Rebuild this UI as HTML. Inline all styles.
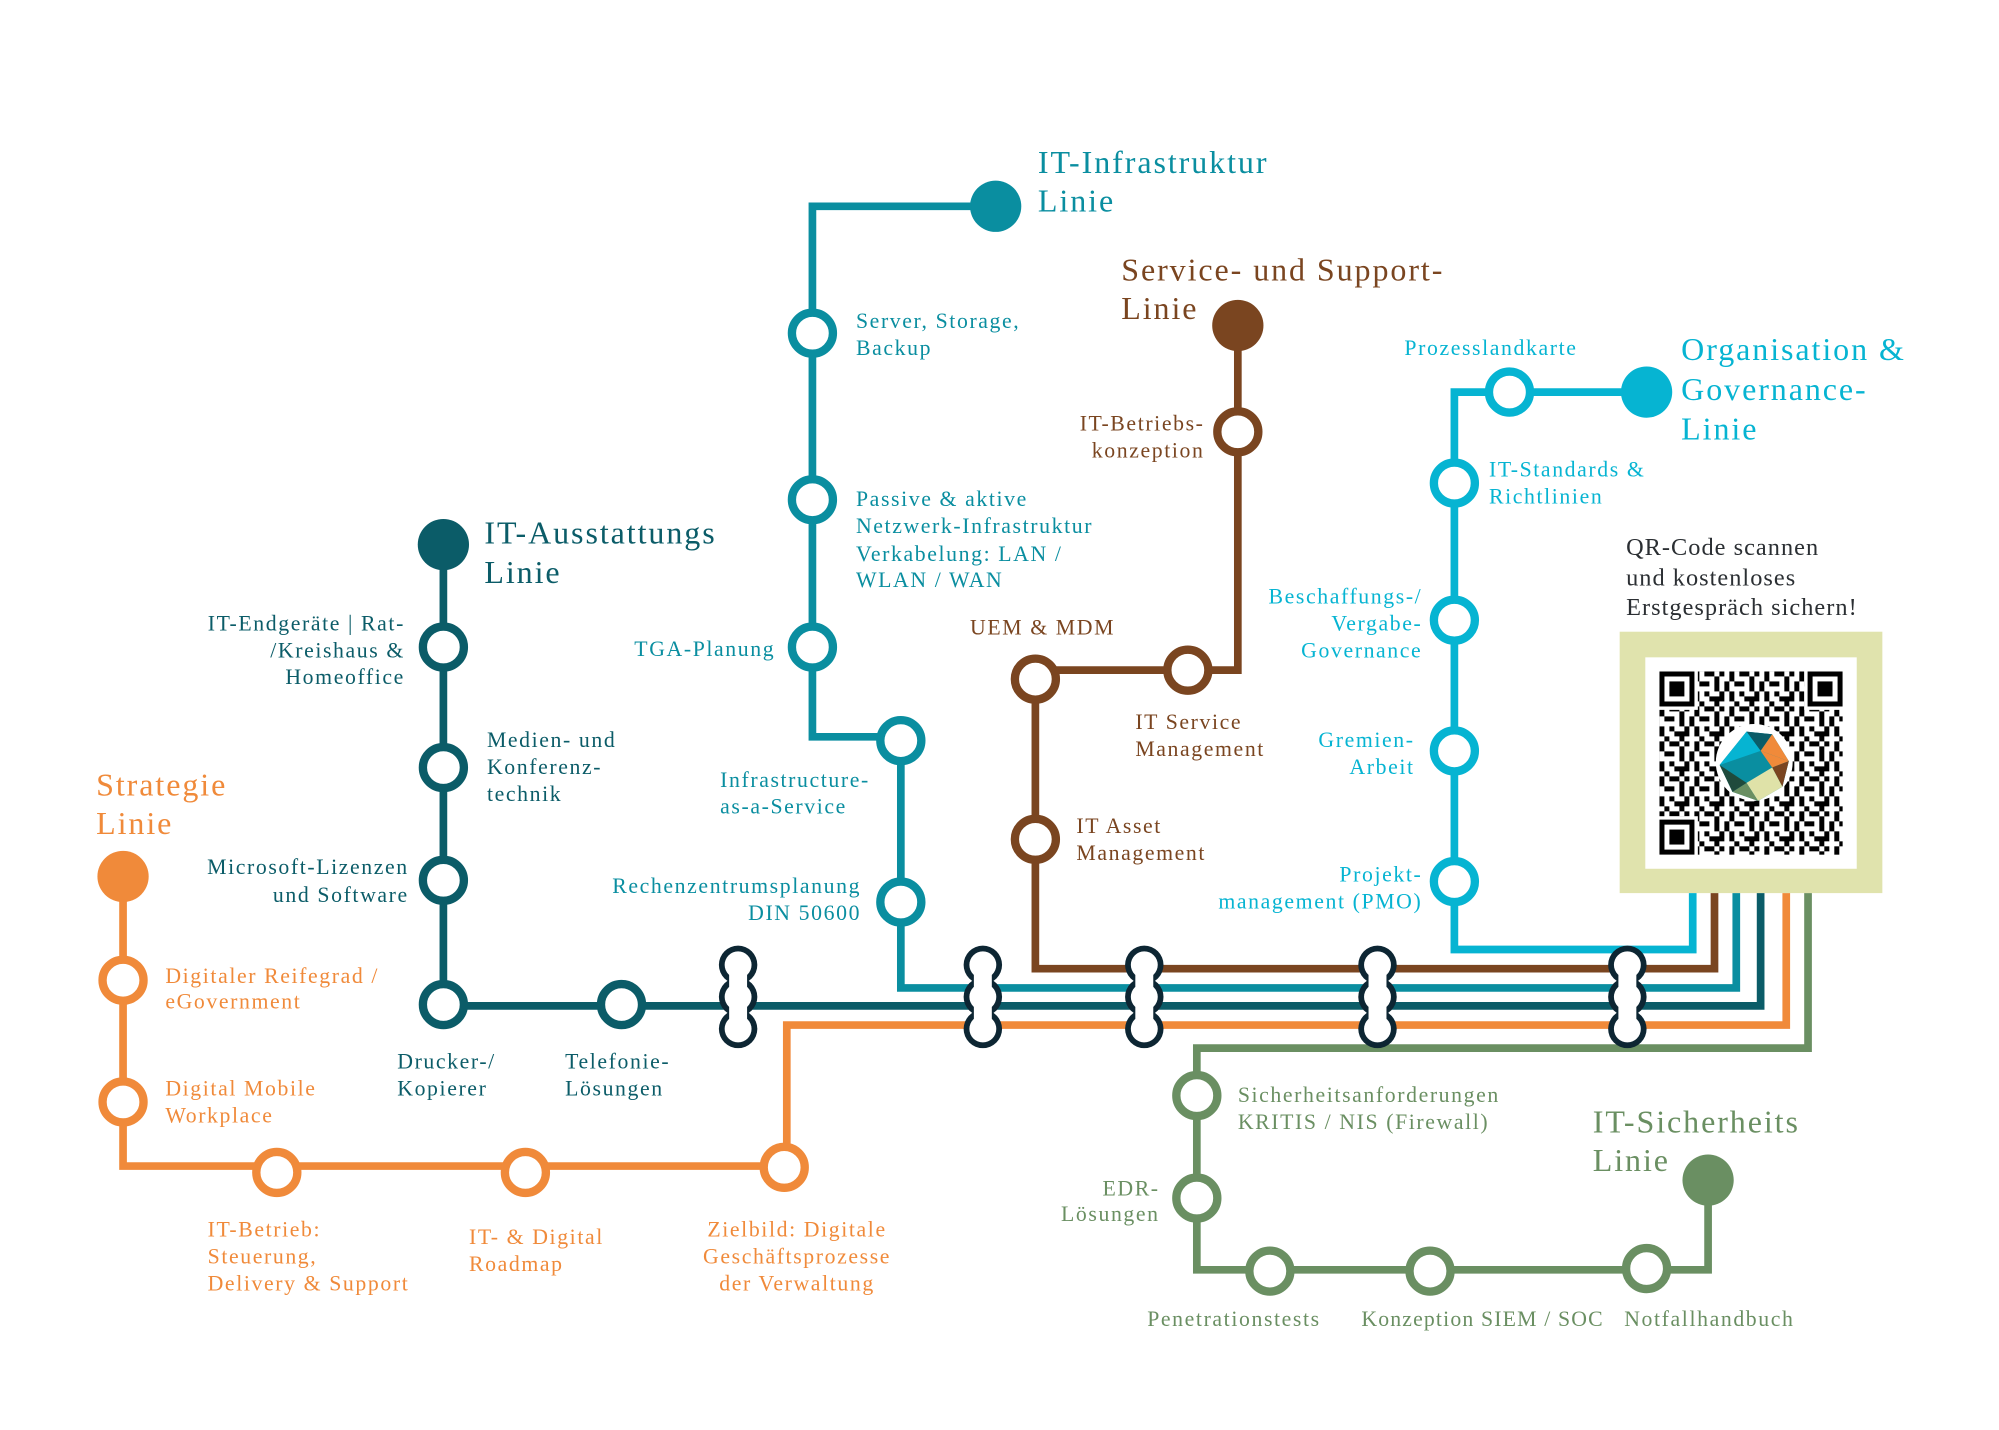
<!DOCTYPE html>
<html><head><meta charset="utf-8"><style>
html,body{margin:0;padding:0;background:#fff;}
svg{display:block;}
text{font-family:"Liberation Serif","DejaVu Serif",serif;font-size:17px;letter-spacing:1.25px;}
.t{font-size:25px;letter-spacing:1.5px;}
</style></head><body>
<svg width="1999" height="1430" viewBox="0 0 1560 1116" xmlns="http://www.w3.org/2000/svg">
<defs>
<pattern id="qr" x="1295" y="524" width="27.3" height="27.3" patternUnits="userSpaceOnUse">
<rect x="0" y="0" width="3.9" height="7.8" fill="#000"/><rect x="7.8" y="0" width="7.8" height="3.9" fill="#000"/><rect x="19.5" y="0" width="3.9" height="3.9" fill="#000"/>
<rect x="3.9" y="7.8" width="7.8" height="3.9" fill="#000"/><rect x="15.6" y="3.9" width="3.9" height="11.7" fill="#000"/><rect x="23.4" y="7.8" width="3.9" height="7.8" fill="#000"/>
<rect x="0" y="15.6" width="3.9" height="7.8" fill="#000"/><rect x="7.8" y="15.6" width="3.9" height="3.9" fill="#000"/><rect x="11.7" y="19.5" width="11.7" height="3.9" fill="#000"/>
<rect x="3.9" y="23.4" width="3.9" height="3.9" fill="#000"/><rect x="19.5" y="15.6" width="3.9" height="3.9" fill="#000"/><rect x="15.6" y="23.4" width="3.9" height="3.9" fill="#000"/>
</pattern>
<g id="pill">
<circle cx="0" cy="-25" r="15" fill="#0d2633"/><circle cx="0" cy="0" r="15" fill="#0d2633"/><circle cx="0" cy="25" r="15" fill="#0d2633"/>
<circle cx="0" cy="-25" r="10.5" fill="#fff"/><circle cx="0" cy="0" r="10.5" fill="#fff"/><circle cx="0" cy="25" r="10.5" fill="#fff"/>
<rect x="-7" y="-25" width="14" height="50" fill="#fff"/>
</g>
</defs>

<rect x="1264" y="493" width="205" height="204" fill="#e0e3ad"/>
<rect x="1284" y="513" width="165" height="165" fill="#fff"/>
<rect x="1295" y="524" width="143" height="143" fill="url(#qr)"/>
<g fill="#fff"><rect x="1293" y="522" width="32" height="32"/><rect x="1408" y="522" width="32" height="32"/><rect x="1293" y="637" width="32" height="32"/></g>
<g fill="none" stroke="#000" stroke-width="3.9">
<rect x="1297" y="526" width="23.4" height="23.4"/><rect x="1412.6" y="526" width="23.4" height="23.4"/><rect x="1297" y="641.6" width="23.4" height="23.4"/></g>
<g fill="#000"><rect x="1302.8" y="531.8" width="11.7" height="11.7"/><rect x="1418.4" y="531.8" width="11.7" height="11.7"/><rect x="1302.8" y="647.4" width="11.7" height="11.7"/></g>
<circle cx="1369" cy="595" r="30" fill="#fff"/>
<g transform="translate(1369,596)">
<polygon points="-6,-25 14,-23 27,-2 22,18 3,29 -17,22 -27,1" fill="#0a8ea0"/>
<polygon points="-6,-25 14,-23 5,-10" fill="#0b5c68"/>
<polygon points="-6,-25 5,-10 -27,1" fill="#06b4d2"/>
<polygon points="14,-23 27,-2 5,-10 " fill="#f08a3a"/>
<polygon points="5,-10 27,-2 14,3" fill="#f08a3a"/>
<polygon points="27,-2 22,18 14,3" fill="#7a4520"/>
<polygon points="14,3 22,18 3,29 -6,15" fill="#dfe2a8"/>
<polygon points="-6,15 3,29 -17,22" fill="#6a8f62"/>
<polygon points="-27,1 -6,15 -17,22" fill="#1f4a3c"/>
</g>

<g fill="none" stroke-width="6" stroke-linejoin="miter">
<polyline stroke="#0a8ea0" points="777,161 634,161 634,575 703,575 703,771 1355,771 1355,697"/>
<polyline stroke="#7a4520" points="966,254 966,523 808,523 808,756 1338,756 1338,697"/>
<polyline stroke="#06b4d2" points="1285,306 1135,306 1135,741 1321,741 1321,697"/>
<polyline stroke="#0b5c68" points="346,425 346,785 1374,785 1374,697"/>
<polyline stroke="#f08a3a" points="96,684 96,910 614,910 614,800 1394,800 1394,697"/>
<polyline stroke="#6a8f62" points="1333,921 1333,991 934,991 934,818 1411,818 1411,697"/>
</g>

<use href="#pill" x="576" y="778"/>
<use href="#pill" x="767" y="778"/>
<use href="#pill" x="893" y="778"/>
<use href="#pill" x="1075" y="778"/>
<use href="#pill" x="1270" y="778"/>

<circle cx="777" cy="161" r="20" fill="#0a8ea0"/>
<circle cx="966" cy="254" r="20" fill="#7a4520"/>
<circle cx="1285" cy="306" r="20" fill="#06b4d2"/>
<circle cx="346" cy="425" r="20" fill="#0b5c68"/>
<circle cx="96" cy="684" r="20" fill="#f08a3a"/>
<circle cx="1333" cy="921" r="20" fill="#6a8f62"/>

<g fill="#fff" stroke-width="6.5">
<g stroke="#0a8ea0"><circle cx="634" cy="260" r="16"/><circle cx="634" cy="390" r="16"/><circle cx="634" cy="505" r="16"/><circle cx="703" cy="578" r="16"/><circle cx="703" cy="704" r="16"/></g>
<g stroke="#7a4520"><circle cx="966" cy="337" r="16"/><circle cx="927" cy="523" r="16"/><circle cx="808" cy="530" r="16"/><circle cx="808" cy="655" r="16"/></g>
<g stroke="#06b4d2"><circle cx="1178" cy="306" r="16"/><circle cx="1135" cy="377" r="16"/><circle cx="1135" cy="484" r="16"/><circle cx="1135" cy="586" r="16"/><circle cx="1135" cy="688" r="16"/></g>
<g stroke="#0b5c68"><circle cx="346" cy="505" r="16"/><circle cx="346" cy="599" r="16"/><circle cx="346" cy="687" r="16"/><circle cx="346" cy="784" r="16"/><circle cx="485" cy="784" r="16"/></g>
<g stroke="#f08a3a"><circle cx="96" cy="765" r="16"/><circle cx="96" cy="860" r="16"/><circle cx="216" cy="915" r="16"/><circle cx="410" cy="915" r="16"/><circle cx="612" cy="911" r="16"/></g>
<g stroke="#6a8f62"><circle cx="934" cy="855" r="16"/><circle cx="934" cy="935" r="16"/><circle cx="991" cy="992" r="16"/><circle cx="1116" cy="992" r="16"/><circle cx="1285" cy="990" r="16"/></g>
</g>

<g>
<text class="t" x="810" y="135" fill="#0a8ea0">IT-Infrastruktur</text><text class="t" x="810" y="165" fill="#0a8ea0">Linie</text>
<text class="t" x="875" y="219" fill="#7a4520">Service- und Support-</text><text class="t" x="875" y="249" fill="#7a4520">Linie</text>
<text class="t" x="1312" y="281" fill="#06b4d2">Organisation &amp;</text><text class="t" x="1312" y="312" fill="#06b4d2">Governance-</text><text class="t" x="1312" y="343" fill="#06b4d2">Linie</text>
<text class="t" x="378" y="424" fill="#0b5c68">IT-Ausstattungs</text><text class="t" x="378" y="455" fill="#0b5c68">Linie</text>
<text class="t" x="75" y="621" fill="#f08a3a">Strategie</text><text class="t" x="75" y="651" fill="#f08a3a">Linie</text>
<text class="t" x="1243" y="884" fill="#6a8f62">IT-Sicherheits</text><text class="t" x="1243" y="914" fill="#6a8f62">Linie</text>
</g>

<g fill="#0a8ea0">
<text x="668" y="256">Server, Storage,</text><text x="668" y="277">Backup</text>
<text x="668" y="395">Passive &amp; aktive</text><text x="668" y="416">Netzwerk-Infrastruktur</text><text x="668" y="438">Verkabelung: LAN /</text><text x="668" y="458">WLAN / WAN</text>
<text x="605" y="512" text-anchor="end">TGA-Planung</text>
<text x="562" y="614">Infrastructure-</text><text x="562" y="635">as-a-Service</text>
<text x="672" y="697" text-anchor="end">Rechenzentrumsplanung</text><text x="672" y="718" text-anchor="end">DIN 50600</text>
</g>
<g fill="#7a4520">
<text x="940" y="336" text-anchor="end">IT-Betriebs-</text><text x="940" y="357" text-anchor="end">konzeption</text>
<text x="757" y="495">UEM &amp; MDM</text>
<text x="886" y="569">IT Service</text><text x="886" y="590">Management</text>
<text x="840" y="650">IT Asset</text><text x="840" y="671">Management</text>
</g>
<g fill="#06b4d2">
<text x="1096" y="277">Prozesslandkarte</text>
<text x="1162" y="372">IT-Standards &amp;</text><text x="1162" y="393">Richtlinien</text>
<text x="1110" y="471" text-anchor="end">Beschaffungs-/</text><text x="1110" y="492" text-anchor="end">Vergabe-</text><text x="1110" y="513" text-anchor="end">Governance</text>
<text x="1104" y="583" text-anchor="end">Gremien-</text><text x="1104" y="604" text-anchor="end">Arbeit</text>
<text x="1110" y="688" text-anchor="end">Projekt-</text><text x="1110" y="709" text-anchor="end">management (PMO)</text>
</g>
<g fill="#2b2f33">
<text x="1269" y="433" style="font-size:19px;letter-spacing:0.8px">QR-Code scannen</text>
<text x="1269" y="457" style="font-size:19px;letter-spacing:0.8px">und kostenloses</text>
<text x="1269" y="480" style="font-size:19px;letter-spacing:0.8px">Erstgespräch sichern!</text>
</g>
<g fill="#0b5c68">
<text x="316" y="492" text-anchor="end">IT-Endgeräte | Rat-</text><text x="316" y="513" text-anchor="end">/Kreishaus &amp;</text><text x="316" y="534" text-anchor="end">Homeoffice</text>
<text x="380" y="583">Medien- und</text><text x="380" y="604">Konferenz-</text><text x="380" y="625">technik</text>
<text x="319" y="682" text-anchor="end">Microsoft-Lizenzen</text><text x="319" y="704" text-anchor="end">und Software</text>
<text x="310" y="834">Drucker-/</text><text x="310" y="855">Kopierer</text>
<text x="441" y="834">Telefonie-</text><text x="441" y="855">Lösungen</text>
</g>
<g fill="#f08a3a">
<text x="129" y="767">Digitaler Reifegrad /</text><text x="129" y="787">eGovernment</text>
<text x="129" y="855">Digital Mobile</text><text x="129" y="876">Workplace</text>
<text x="162" y="965">IT-Betrieb:</text><text x="162" y="986">Steuerung,</text><text x="162" y="1007">Delivery &amp; Support</text>
<text x="366" y="971">IT- &amp; Digital</text><text x="366" y="992">Roadmap</text>
<text x="622" y="965" text-anchor="middle">Zielbild: Digitale</text><text x="622" y="986" text-anchor="middle">Geschäftsprozesse</text><text x="622" y="1007" text-anchor="middle">der Verwaltung</text>
</g>
<g fill="#6a8f62">
<text x="966" y="860">Sicherheitsanforderungen</text><text x="966" y="881">KRITIS / NIS (Firewall)</text>
<text x="905" y="933" text-anchor="end">EDR-</text><text x="905" y="953" text-anchor="end">Lösungen</text>
<text x="963" y="1035" text-anchor="middle">Penetrationstests</text>
<text x="1157" y="1035" text-anchor="middle" style="letter-spacing:0.9px">Konzeption SIEM / SOC</text>
<text x="1334" y="1035" text-anchor="middle">Notfallhandbuch</text>
</g>
</svg>
</body></html>
